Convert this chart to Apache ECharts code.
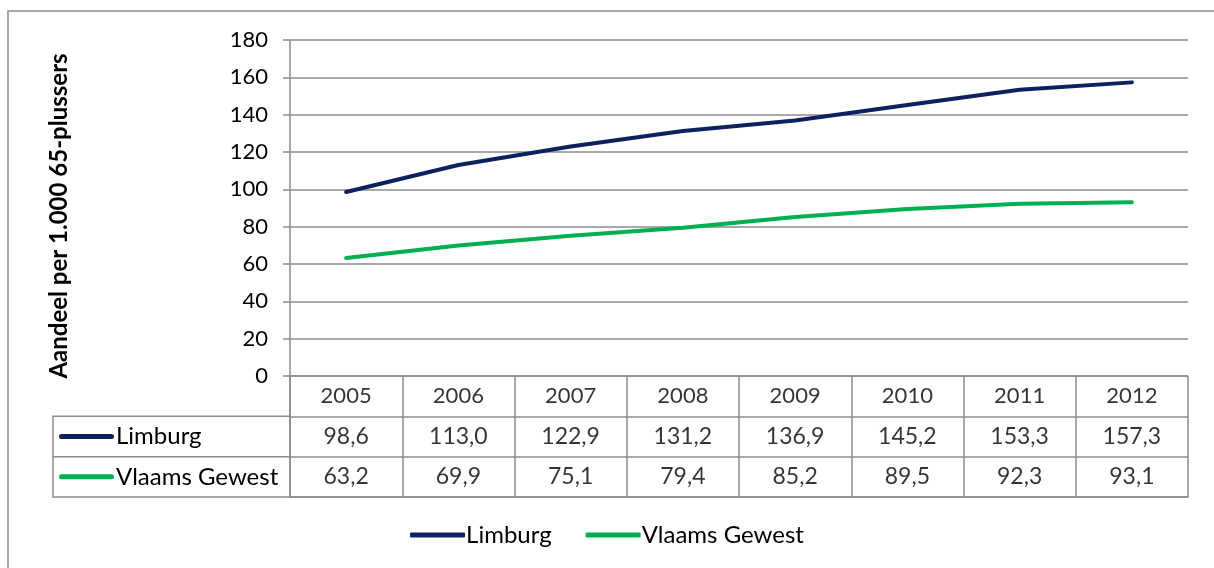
<!DOCTYPE html>
<html>
<head>
<meta charset="utf-8">
<script src="https://cdn.jsdelivr.net/npm/echarts@6/dist/echarts.min.js"></script>
<style>
  html, body { margin: 0; padding: 0; background: #fff; }
  #main { width: 1214px; height: 568px; }
</style>
</head>
<body>
<div id="main"></div>
<script>
var years = ['2005', '2006', '2007', '2008', '2009', '2010', '2011', '2012'];
var limburg = [98.6, 113.0, 122.9, 131.2, 136.9, 145.2, 153.3, 157.3];
var vlaams = [63.2, 69.9, 75.1, 79.4, 85.2, 89.5, 92.3, 93.1];
var seriesNames = ['Limburg', 'Vlaams Gewest'];
var seriesColors = ['#0d2161', '#00b050'];
var rowNames = ['', 'Limburg', 'Vlaams Gewest'];

var FONT = 'Lato, "Open Sans", sans-serif';
var GRID_LINE = '#8c8c8c';

function fmt(v) {
    return v.toFixed(1).replace('.', ',');
}

// cellen van de datatabel
function cells(rowIdx, list, isText) {
    return list.map(function (v, i) {
        return { value: [i, rowIdx], txt: isText ? v : fmt(v) };
    });
}

function tableSeries(rowIdx, list, isText) {
    return {
        type: 'scatter',
        xAxisIndex: 1,
        yAxisIndex: 1,
        symbolSize: 0,
        itemStyle: { color: 'rgba(0,0,0,0)' },
        silent: true,
        data: cells(rowIdx, list, isText),
        label: {
            show: true,
            position: 'inside',
            fontFamily: FONT,
            fontSize: isText ? 22 : 23,
            color: '#000',
            formatter: function (p) { return p.data.txt; }
        }
    };
}

var myChart = echarts.init(document.getElementById('main'));

var option = {
    backgroundColor: '#fff',
    animation: false,
    textStyle: { fontFamily: FONT },
    grid: [
        { left: 290, right: 26, top: 40, height: 336 },
        { left: 290, right: 26, top: 376, height: 121 }
    ],
    legend: {
        data: [
            { name: seriesNames[0], icon: 'roundRect' },
            { name: seriesNames[1], icon: 'roundRect' }
        ],
        bottom: 16,
        left: 'center',
        itemWidth: 55,
        itemHeight: 5,
        itemGap: 34,
        textStyle: { fontFamily: FONT, fontSize: 24, color: '#000', padding: [0, 0, 0, -4] }
    },
    xAxis: [
        {
            type: 'category',
            gridIndex: 0,
            data: years,
            boundaryGap: true,
            axisLine: { show: false },
            axisTick: { show: false },
            axisLabel: { show: false },
            splitLine: { show: false }
        },
        {
            type: 'category',
            gridIndex: 1,
            data: years,
            boundaryGap: true,
            axisLine: { show: true, lineStyle: { color: GRID_LINE, width: 1.5 } },
            axisTick: { show: false },
            axisLabel: { show: false },
            splitLine: { show: true, interval: 0, lineStyle: { color: GRID_LINE, width: 1.5 } }
        }
    ],
    yAxis: [
        {
            type: 'value',
            gridIndex: 0,
            min: 0,
            max: 180,
            interval: 20,
            name: 'Aandeel per 1.000 65-plussers',
            nameLocation: 'middle',
            nameGap: 219,
            nameTextStyle: {
                fontFamily: FONT, fontSize: 24, fontWeight: 'bold', color: '#000',
                padding: [0, 16, 0, 0]
            },
            axisLine: { show: true, lineStyle: { color: GRID_LINE, width: 1.5 } },
            axisTick: { show: true, length: 7, lineStyle: { color: GRID_LINE, width: 1.5 } },
            axisLabel: { fontFamily: FONT, fontSize: 22, color: '#000', margin: 22 },
            splitLine: { show: true, lineStyle: { color: GRID_LINE, width: 1.5 } }
        },
        {
            type: 'category',
            gridIndex: 1,
            data: rowNames,
            inverse: true,
            boundaryGap: true,
            axisLine: { show: true, lineStyle: { color: GRID_LINE, width: 1.5 } },
            axisTick: { show: false },
            splitLine: { show: true, interval: 0, lineStyle: { color: GRID_LINE, width: 1.5 } },
            axisLabel: {
                align: 'left',
                margin: 231,
                formatter: function (v, i) {
                    if (!v) return '';
                    return '{l' + i + '|}{t|' + v + '}';
                },
                rich: {
                    l1: { width: 55, height: 5, backgroundColor: seriesColors[0], borderRadius: 3 },
                    l2: { width: 55, height: 5, backgroundColor: seriesColors[1], borderRadius: 3 },
                    t: { fontFamily: FONT, fontSize: 24, color: '#000', padding: [0, 0, 0, 2] }
                }
            }
        }
    ],
    graphic: [
        {   // kader rond de grafiek
            type: 'rect',
            shape: { x: 8, y: 11, width: 1400, height: 800 },
            style: { fill: 'none', stroke: '#8a8a8a', lineWidth: 1.5 },
            silent: true,
            z: -1
        },
        {   // linkerdeel van de tabel
            type: 'polyline',
            shape: { points: [[290, 416.3], [53, 416.3], [53, 497], [290, 497]] },
            style: { fill: 'none', stroke: GRID_LINE, lineWidth: 1.5 },
            silent: true
        },
        {
            type: 'line',
            shape: { x1: 53, y1: 456.7, x2: 290, y2: 456.7 },
            style: { stroke: GRID_LINE, lineWidth: 1.5 },
            silent: true
        }
    ],
    series: [
        {
            name: seriesNames[0],
            type: 'line',
            xAxisIndex: 0,
            yAxisIndex: 0,
            data: limburg,
            symbol: 'none',
            color: seriesColors[0],
            lineStyle: { width: 4, color: seriesColors[0], cap: 'round' }
        },
        {
            name: seriesNames[1],
            type: 'line',
            xAxisIndex: 0,
            yAxisIndex: 0,
            data: vlaams,
            symbol: 'none',
            color: seriesColors[1],
            lineStyle: { width: 4, color: seriesColors[1], cap: 'round' }
        },
        tableSeries(0, years, true),
        tableSeries(1, limburg, false),
        tableSeries(2, vlaams, false)
    ]
};

myChart.setOption(option);
</script>
</body>
</html>
